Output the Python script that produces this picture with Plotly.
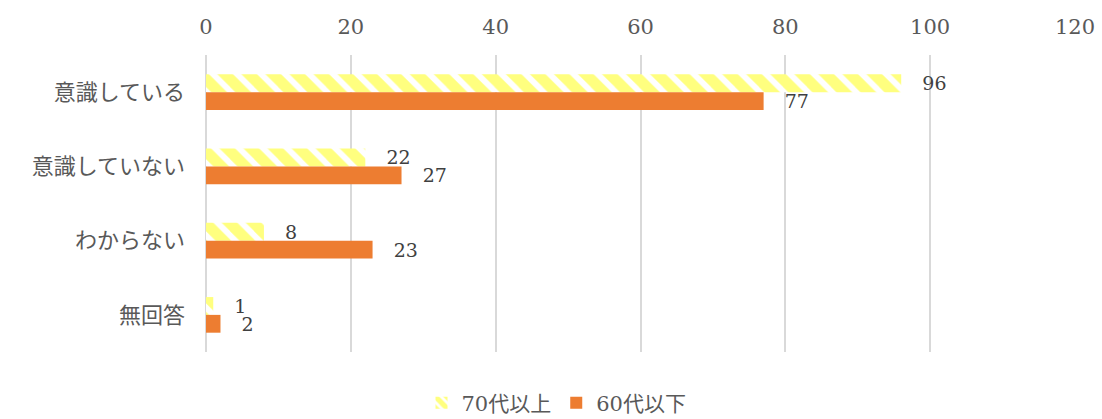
import plotly.graph_objects as go

categories = ["意識している", "意識していない", "わからない", "無回答"]
series_names = ["70代以上", "60代以下"]
values_70 = [96, 22, 8, 1]
values_60 = [77, 27, 23, 2]
x_ticks = [0, 20, 40, 60, 80, 100, 120]

GRAY = "#595959"
GRID = "#d9d9d9"
NUM_FONT = "DejaVu Serif, Noto Sans CJK JP, sans-serif"
CJK_FONT = "Noto Sans CJK JP, sans-serif"

fig = go.Figure()

fig.add_trace(go.Bar(
    name=series_names[0],
    y=categories,
    x=values_70,
    orientation="h",
    marker=dict(
        color="white",
        line=dict(width=0),
        pattern=dict(shape="\\", fgcolor="#ffff00", bgcolor="white",
                     size=17, solidity=0.65, fillmode="overlay"),
    ),
    text=values_70,
    texttemplate="   %{x}",
    textposition="outside",
    constraintext="none",
    textfont=dict(family=NUM_FONT, size=19, color="#404040"),
    cliponaxis=False,
))

fig.add_trace(go.Bar(
    name=series_names[1],
    y=categories,
    x=values_60,
    orientation="h",
    marker=dict(color="#ed7d31", line=dict(width=0)),
    text=values_60,
    texttemplate="   %{x}",
    textposition="outside",
    constraintext="none",
    textfont=dict(family=NUM_FONT, size=19, color="#404040"),
    cliponaxis=False,
))

fig.update_layout(
    width=1102,
    height=419,
    barmode="group",
    bargap=0.52,
    bargroupgap=0,
    plot_bgcolor="white",
    paper_bgcolor="white",
    margin=dict(l=206, r=27, t=55, b=67, autoexpand=False),
    font=dict(family=NUM_FONT, color=GRAY),
    xaxis=dict(
        side="top",
        range=[0, 120],
        tickvals=x_ticks,
        showgrid=True,
        gridcolor=GRID,
        gridwidth=2,
        zeroline=True,
        zerolinecolor=GRID,
        zerolinewidth=2,
        showline=False,
        ticks="",
        ticklabelstandoff=16,
        tickfont=dict(family=NUM_FONT, size=21, color=GRAY),
    ),
    yaxis=dict(
        autorange="reversed",
        showgrid=False,
        showline=False,
        ticks="",
        ticklabelstandoff=20,
        tickfont=dict(family=CJK_FONT, size=22, color=GRAY),
    ),
    legend=dict(
        orientation="h",
        xref="container",
        yref="container",
        x=0.505,
        xanchor="center",
        y=0.038,
        yanchor="middle",
        font=dict(family=NUM_FONT, size=21, color=GRAY),
        traceorder="normal",
    ),
    showlegend=True,
)

fig.write_html("out.html")
